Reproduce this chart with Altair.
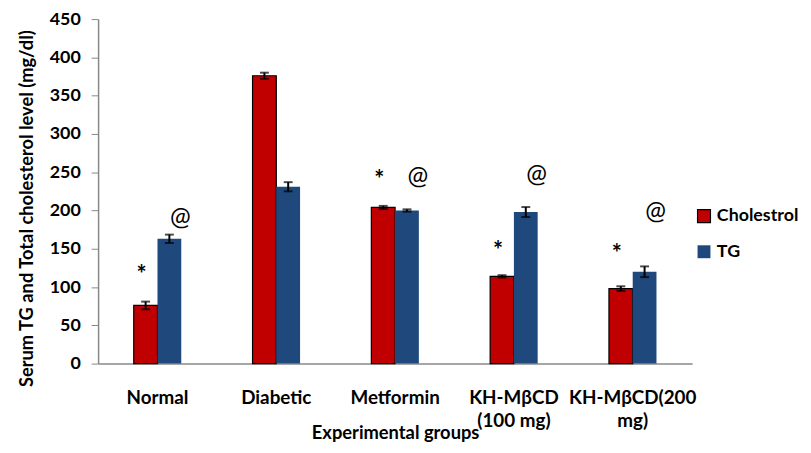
import altair as alt
import pandas as pd

groups = ["Normal", "Diabetic", "Metformin", "KH-MβCD (100 mg)", "KH-MβCD(200 mg)"]
tick_labels = [["Normal"], ["Diabetic"], ["Metformin"], ["KH-MβCD", "(100 mg)"], ["KH-MβCD(200", "mg)"]]
y_ticks = [0, 50, 100, 150, 200, 250, 300, 350, 400, 450]
series = ["Cholestrol", "TG"]
chol = [76, 376, 204, 114, 98]
chol_err = [5, 4, 2, 1.5, 3]
tg = [163, 231, 200, 198, 120]
tg_err = [5.5, 6, 1.5, 6.5, 7]
star_y = [124, None, 248, 155, 151]
at_y = [191, None, 245, 248, 199]

rows = []
for i, g in enumerate(groups):
    rows.append({"group": g, "series": "Cholestrol", "value": chol[i],
                 "lo": chol[i] - chol_err[i], "hi": chol[i] + chol_err[i]})
    rows.append({"group": g, "series": "TG", "value": tg[i],
                 "lo": tg[i] - tg_err[i], "hi": tg[i] + tg_err[i]})
df = pd.DataFrame(rows)

ann = []
for i, g in enumerate(groups):
    if star_y[i] is not None:
        ann.append({"group": g, "series": "Cholestrol", "y": star_y[i], "t": "*"})
    if at_y[i] is not None:
        ann.append({"group": g, "series": "TG", "y": at_y[i], "t": "@"})
adf = pd.DataFrame(ann)

label_map = "{" + ",".join(
    f"'{g}': [{','.join(repr(s) for s in tl)}]" for g, tl in zip(groups, tick_labels)
) + "}"

FONT = "Lato"


def xenc():
    return alt.X("group:N", sort=groups, title="Experimental groups",
                 scale=alt.Scale(paddingInner=0.6, paddingOuter=0.3),
                 axis=alt.Axis(labelAngle=0, labelExpr=f"{label_map}[datum.value]",
                               labelFont=FONT, labelFontSize=19, labelFontWeight="bold",
                               labelColor="black", labelPadding=25, labelLineHeight=24,
                               labelOverlap=False, labelLimit=300,
                               ticks=False, domainColor="#888888", domainWidth=1.5,
                               titleFont=FONT, titleFontSize=18.5, titleFontWeight="bold",
                               titleColor="black", titlePadding=-7, labelBaseline="top"))


def yenc(field):
    return alt.Y(field, scale=alt.Scale(domain=[0, 450]),
                 title="Serum TG and Total cholesterol level (mg/dl)",
                 axis=alt.Axis(values=y_ticks, grid=False, labelOverlap=False,
                               tickSize=7, tickColor="#888888", domainColor="#888888",
                               domainWidth=1.5, labelFont=FONT, labelFontSize=18,
                               labelFontWeight="bold", labelColor="black", labelPadding=11,
                               titleFont=FONT, titleFontSize=18.5, titleFontWeight="bold",
                               titleColor="black", titlePadding=13, titleY=191))


xo = alt.XOffset("series:N", sort=series, scale=alt.Scale(paddingInner=0, paddingOuter=0))

bars = alt.Chart(df).mark_bar(strokeWidth=1.2).encode(
    x=xenc(),
    xOffset=xo,
    y=yenc("value:Q"),
    fill=alt.Fill("series:N", sort=series,
                  scale=alt.Scale(domain=series, range=["#C00000", "#1F497D"]),
                  legend=alt.Legend(title=None, orient="none", legendX=603, legendY=190,
                                    symbolType="square", symbolSize=170,
                                    labelFont=FONT, labelFontSize=18, labelLimit=200,
                                    labelFontWeight="bold", labelColor="black",
                                    rowPadding=18, symbolStrokeWidth=1.2)),
    stroke=alt.Stroke("series:N", sort=series,
                      scale=alt.Scale(domain=series, range=["black", "transparent"]),
                      legend=None),
)

rules = alt.Chart(df).mark_rule(color="black", strokeWidth=2).encode(
    x=xenc(), xOffset=xo, y=yenc("lo:Q"), y2="hi:Q")
cap_lo = alt.Chart(df).mark_tick(color="black", thickness=2, size=9).encode(
    x=xenc(), xOffset=xo, y=yenc("lo:Q"))
cap_hi = alt.Chart(df).mark_tick(color="black", thickness=2, size=9).encode(
    x=xenc(), xOffset=xo, y=yenc("hi:Q"))

stars = alt.Chart(adf).transform_filter("datum.t == '*'").mark_text(
    font=FONT, fontSize=24, fontWeight="bold", color="black", dx=-4, dy=7).encode(
    x=xenc(), xOffset=xo, y=yenc("y:Q"), text="t:N")
ats = alt.Chart(adf).transform_filter("datum.t == '@'").mark_text(
    font=FONT, fontSize=25, color="black", dx=11).encode(
    x=xenc(), xOffset=xo, y=yenc("y:Q"), text="t:N")

chart = alt.layer(bars, rules, cap_lo, cap_hi, stars, ats).properties(
    width=600, height=348,
    background="white",
    autosize=alt.AutoSizeParams(type="none"),
    padding={"left": 91, "top": 9, "right": 112, "bottom": 80},
).configure_view(stroke="transparent", strokeWidth=0)

chart.save("out.html", embed_options={"renderer": "svg", "actions": False})
